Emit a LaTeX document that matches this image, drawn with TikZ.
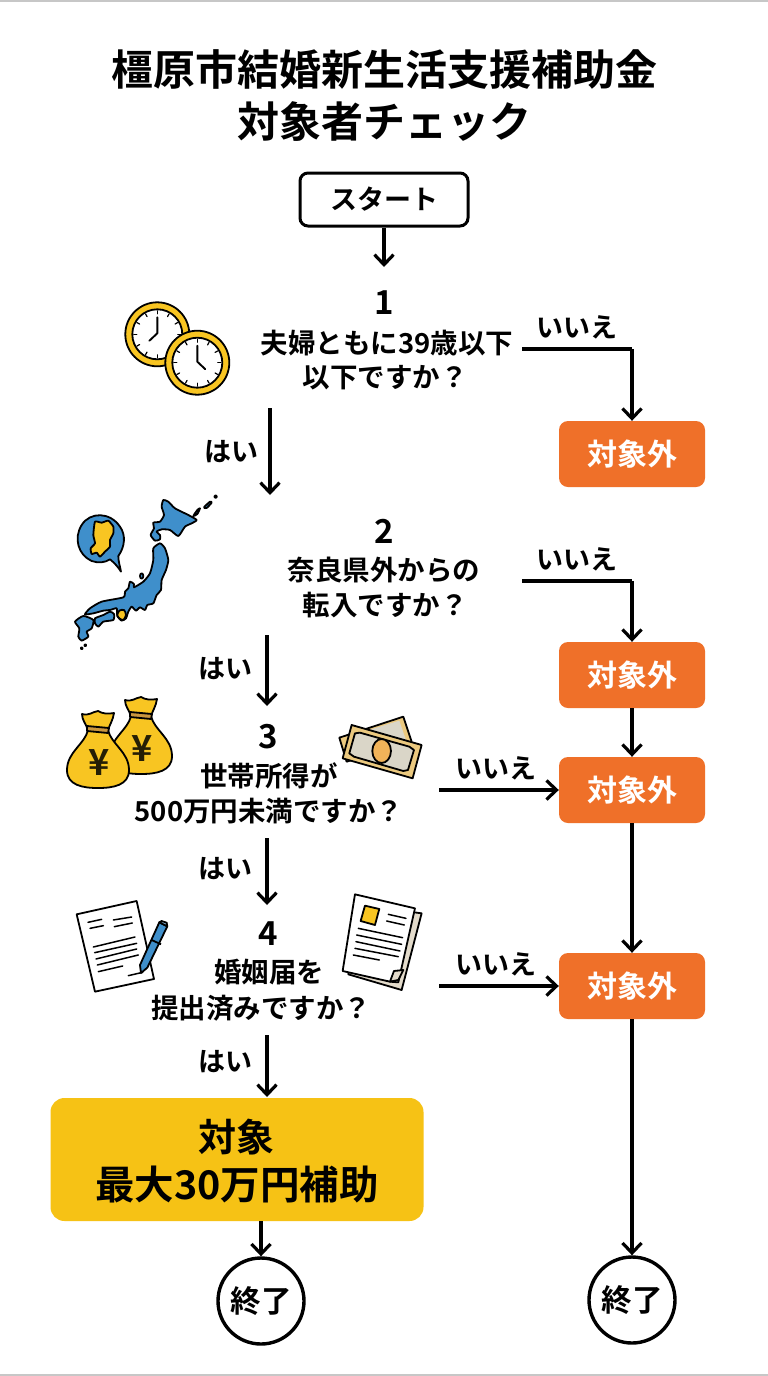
\documentclass[tikz,border=0pt]{standalone}
\usepackage{fontspec}
\usetikzlibrary{arrows.meta,calc}
\setmainfont{Noto Sans CJK JP}[BoldFont={Noto Sans CJK JP Bold}]
\definecolor{orangebox}{HTML}{EF7029}
\definecolor{yellowbox}{HTML}{F6C215}
\definecolor{mapblue}{HTML}{3F8FCB}
\definecolor{goldy}{HTML}{F8C522}
\definecolor{tiebrown}{HTML}{C9963F}
\definecolor{billtan}{HTML}{EBC97F}
\definecolor{billgrey}{HTML}{DAD6C8}
\definecolor{pagebeige}{HTML}{E3DBCB}
\tikzset{
  x=1pt,y=-1pt,
  conn/.style={line width=3.4pt,-{Straight Barb[length=10pt,width=19pt,line width=3.2pt]},black},
  connline/.style={line width=3.4pt,black,line cap=butt},
  ttl/.style={font=\fontsize{42}{44}\selectfont\bfseries,inner sep=0pt},
  num/.style={font=\fontsize{33}{35}\selectfont\bfseries,inner sep=0pt},
  qtxt/.style={font=\fontsize{27.5}{30}\selectfont\bfseries,inner sep=0pt},
  lab/.style={font=\fontsize{27}{29}\selectfont\bfseries,inner sep=0pt},
  outbox/.style={fill=orangebox,rounded corners=9pt,minimum width=146pt,minimum height=66pt,inner sep=0pt,text=white,font=\fontsize{30}{32}\selectfont\bfseries},
  endc/.style={circle,draw=black,line width=3.4pt,fill=white,minimum size=86pt,inner sep=0pt,font=\fontsize{30.5}{32}\selectfont\bfseries},
  ink/.style={draw=black,line width=1.8pt,line join=round},
  inkthin/.style={draw=black,line width=1.5pt,line cap=round},
}
\newcommand{\clockart}[4]{%
  \filldraw[ink,fill=goldy] (#1,#2) circle (32);
  \filldraw[ink,fill=white] (#1,#2) circle (25);
  \foreach \a in {0,30,...,330}{\draw[line width=1.2pt,line cap=round] ($(#1,#2)+(\a:20.5)$) -- ($(#1,#2)+(\a:23.5)$);}
  \draw[line width=1.9pt,line cap=round,line join=round] (#1,#2-1) ++(0,-16) -- (#1,#2-1) -- ++(#3,#4);
}
\newcommand{\bagart}[2]{%
\begin{scope}[shift={(#1,#2)}]
  \filldraw[ink,fill=goldy] (-10,-30) .. controls (-13,-16) and (-31,-8) .. (-31,10) .. controls (-31,25) and (-16,28) .. (0,28) .. controls (16,28) and (31,25) .. (31,10) .. controls (31,-8) and (13,-16) .. (10,-30) -- cycle;
  \filldraw[ink,fill=goldy] (-10,-30) .. controls (-12,-36) and (-16,-40) .. (-16,-46) .. controls (-9,-44) and (-6,-48) .. (0,-49) .. controls (5,-46) and (10,-46) .. (16,-47) .. controls (15,-40) and (12,-36) .. (10,-30) -- cycle;
  \filldraw[ink,fill=tiebrown] (-11,-34) -- (11,-32) -- (10,-27) -- (-11,-29) -- cycle;
  \node[inner sep=0pt,font=\fontsize{36}{36}\selectfont\bfseries,text=black!85!goldy] at (1,3) {¥};
\end{scope}}
\begin{document}
\begin{tikzpicture}
\useasboundingbox (0,0) rectangle (768,1376);
\fill[white] (0,0) rectangle (768,1376);
\draw[black!22,line width=2pt] (0,0.5) -- (768,0.5);
\draw[black!22,line width=2pt] (0,1375) -- (768,1375);
% title
\node[ttl] (title1) at (384,69) {橿原市結婚新生活支援補助金};
\node[ttl] (title2) at (384,122) {対象者チェック};
% start
\node[draw=black,line width=3pt,rounded corners=8pt,fill=white,minimum width=168pt,minimum height=53pt,inner sep=0pt,font=\fontsize{27}{29}\selectfont\bfseries] (start) at (384,199.5) {スタート};
% question 1
\node[num] (n1) at (384,303) {1};
\node[qtxt] (q1a) at (387,343) {夫婦ともに39歳以下};
\node[qtxt] (q1b) at (385,378) {以下ですか？};
\node[lab] (no1) at (577,327) {いいえ};
\node[outbox] (o1) at (632,454) {対象外};
\coordinate (a1) at (384,267);
\coordinate (b1) at (522,349);
\coordinate (c1) at (632,349);
\coordinate (y1s) at (270,408);
\coordinate (y1e) at (270,495);
\node[lab] (yes1) at (231,452) {はい};
% question 2
\node[num] (n2) at (384,531) {2};
\node[qtxt] (q2a) at (384,570) {奈良県外からの};
\node[qtxt] (q2b) at (385,605) {転入ですか？};
\node[lab] (no2) at (577,559) {いいえ};
\node[outbox] (o2) at (632,675) {対象外};
\coordinate (b2) at (522,581);
\coordinate (c2) at (632,581);
\coordinate (y2s) at (267,635);
\coordinate (y2e) at (267,706);
\node[lab] (yes2) at (225,669) {はい};
% question 3
\node[num] (n3) at (268,737) {3};
\node[qtxt] (q3a) at (269,776) {世帯所得が};
\node[qtxt] (q3b) at (269,811) {500万円未満ですか？};
\node[lab] (no3) at (496,768) {いいえ};
\node[outbox] (o3) at (632,790) {対象外};
\coordinate (b3) at (439,790);
\coordinate (y3s) at (267,838);
\coordinate (y3e) at (267,905);
\node[lab] (yes3) at (225,869) {はい};
% question 4
\node[num] (n4) at (268,934) {4};
\node[qtxt] (q4a) at (269,972) {婚姻届を};
\node[qtxt] (q4b) at (261,1008) {提出済みですか？};
\node[lab] (no4) at (496,964) {いいえ};
\node[outbox] (o4) at (632,986) {対象外};
\coordinate (b4) at (439,986);
\coordinate (y4s) at (267,1035);
\coordinate (y4e) at (267,1097);
\node[lab] (yes4) at (225,1062) {はい};
% result
\node[fill=yellowbox,rounded corners=14pt,minimum width=373pt,minimum height=123pt,inner sep=0pt] (res) at (237,1159.5) {};
\node[inner sep=0pt,font=\fontsize{38}{40}\selectfont\bfseries] (res1) at (236,1137) {対象};
\node[inner sep=0pt,font=\fontsize{39.5}{42}\selectfont\bfseries] (res2) at (237,1185) {最大30万円補助};
\node[endc] (endl) at (261,1301) {終了};
\node[endc] (endr) at (632,1300) {終了};
\coordinate (resb) at (261,1221);
% connectors
\draw[conn] (start.south) -- (a1);
\draw[connline] (b1) -- (c1);
\draw[conn] (c1) -- (o1.north);
\draw[conn] (y1s) -- (y1e);
\draw[connline] (b2) -- (c2);
\draw[conn] (c2) -- (o2.north);
\draw[conn] (y2s) -- (y2e);
\draw[conn] (o2.south) -- (o3.north);
\draw[conn] (b3) -- (o3.west);
\draw[conn] (y3s) -- (y3e);
\draw[conn] (o3.south) -- (o4.north);
\draw[conn] (b4) -- (o4.west);
\draw[conn] (y4s) -- (y4e);
\draw[conn] (resb) -- (endl.north);
\draw[conn] (o4.south) -- (endr.north);
% clocks
\clockart{157.3}{334.3}{-8}{7.5}
\clockart{197.3}{362.7}{8}{7.5}
% map
\begin{scope}[shift={(60,480)},scale=0.3333]
 \filldraw[ink,fill=mapblue] plot[smooth cycle,tension=.35] coordinates {(310,60)(325,65)(345,85)(385,105)(410,120)(395,130)(375,140)(355,168)(330,150)(305,148)(290,155)(300,165)(300,178)(285,182)(272,165)(282,145)(280,128)(300,125)(312,105)(305,80)};
 \filldraw[ink,fill=mapblue] plot[smooth cycle,tension=.35] coordinates {(300,190)(315,205)(325,240)(318,270)(305,300)(303,330)(290,345)(280,370)(262,375)(255,390)(240,382)(228,392)(215,380)(205,395)(198,415)(185,422)(172,408)(170,385)(150,390)(130,392)(100,400)(75,403)(90,385)(125,365)(190,352)(195,335)(205,325)(210,305)(222,312)(222,322)(250,305)(270,280)(280,240)(280,205)};
 \filldraw[ink,fill=goldy] plot[smooth cycle,tension=.5] coordinates {(178,392)(192,390)(198,405)(190,420)(178,415)(172,405)};
 \filldraw[ink,fill=mapblue] plot[smooth cycle,tension=.35] coordinates {(105,415)(130,405)(150,395)(162,402)(160,420)(130,425)(115,440)(105,430)};
 \filldraw[ink,fill=mapblue] plot[smooth cycle,tension=.35] coordinates {(45,425)(70,408)(100,420)(95,445)(80,455)(85,470)(65,482)(55,470)(58,445)};
 \filldraw[ink,fill=mapblue] (245,288) ellipse (5 and 8);
 \filldraw[ink,fill=mapblue] plot[smooth cycle,tension=.4] coordinates {(400,108)(412,90)(420,85)(412,102)};
 \filldraw[ink,fill=mapblue] plot[smooth cycle,tension=.4] coordinates {(432,82)(450,65)(455,68)(440,84)};
 \filldraw[ink,fill=mapblue] (467,50) circle (4);
 \filldraw[ink,fill=mapblue] (65,505) circle (3);
 \filldraw[ink,fill=mapblue] (76,496) circle (3);
 \filldraw[ink,fill=mapblue] (150,238) .. controls (165,250) and (175,262) .. (183,275) .. controls (180,258) and (175,245) .. (175,228) .. controls (195,200) and (198,165) .. (180,140) .. controls (150,95) and (90,95) .. (65,135) .. controls (40,175) and (55,225) .. (95,243) .. controls (115,250) and (135,248) .. (150,238) -- cycle;
 \filldraw[ink,fill=goldy] plot[smooth cycle,tension=.3] coordinates {(105,125)(125,128)(145,122)(160,140)(160,160)(150,180)(150,200)(135,215)(120,230)(110,218)(95,222)(92,205)(105,190)(100,165)};
\end{scope}
% money bags
\bagart{141}{746}
\bagart{98}{760}
% bills
\begin{scope}[shift={(60,690)},scale=0.3333]
 \filldraw[ink,fill=billtan] (838,143) -- (1030,80) -- (1055,155) -- (860,215) -- cycle;
 \filldraw[draw=none,fill=billgrey] (862,140) -- (1018,92) -- (1038,150) -- (870,200) -- cycle;
 \filldraw[ink,fill=billtan] (875,105) -- (1085,165) -- (1058,265) -- (848,205) -- cycle;
 \filldraw[ink,fill=billgrey] (885,130) -- (900,128) -- (1048,170) -- (1062,180) -- (1044,240) -- (1030,243) -- (882,200) -- (868,190) -- cycle;
 \filldraw[ink,fill=billtan!70!orange] (965,183) ellipse (28 and 36);
\end{scope}
% document + pen
\begin{scope}[shift={(60,885)},scale=0.3333]
 \filldraw[ink,fill=white] (50,88) -- (230,48) -- (282,282) -- (105,320) -- cycle;
 \foreach \p/\q in {{84,112}/{125,103},{90,130}/{130,122},{160,105}/{215,96},{163,125}/{217,114},{100,186}/{225,156},{104,203}/{230,175},{108,222}/{230,192},{112,240}/{235,210},{115,260}/{188,243},{205,272}/{248,262}}{\draw[inkthin] (\p) -- (\q);}
 \filldraw[ink,fill=mapblue] (240,240) -- (298,112) -- (322,124) -- (262,248) -- (243,264) -- cycle;
 \draw[ink] (275,165) -- (303,178);
 \filldraw[ink,fill=mapblue!60!white] (298,112) -- (305,108) -- (320,113) -- (322,124) -- cycle;
 \filldraw[ink,fill=pagebeige] (900,60) -- (1085,85) -- (1025,315) -- (865,268) -- cycle;
 \filldraw[ink,fill=white] (885,28) -- (1065,70) -- (1015,292) -- (990,290) -- (848,258) -- cycle;
 \filldraw[ink,fill=pagebeige] (990,290) -- (1002,258) -- (1030,255) -- (1015,285) -- cycle;
 \filldraw[ink,fill=goldy] (915,62) -- (958,72) -- (945,120) -- (902,108) -- cycle;
 \foreach \p/\q in {{985,88}/{1038,100},{980,108}/{1033,120},{895,130}/{1028,158},{890,150}/{1025,178},{888,170}/{1020,198},{885,190}/{1015,215},{880,210}/{958,225}}{\draw[inkthin] (\p) -- (\q);}
\end{scope}
\end{tikzpicture}
\end{document}
